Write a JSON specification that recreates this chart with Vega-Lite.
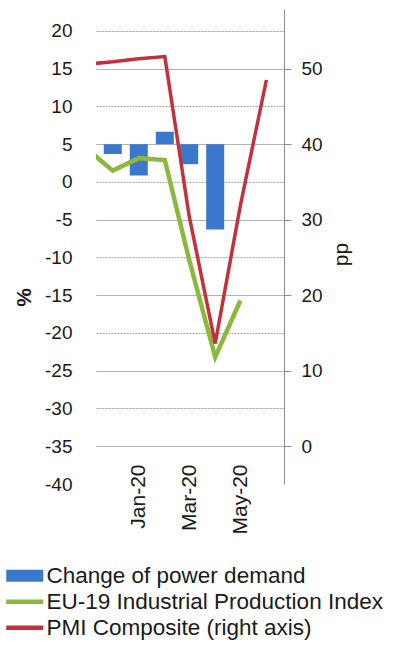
{
  "$schema": "https://vega.github.io/schema/vega-lite/v6.json",
  "autosize": {"type": "none"},
  "padding": {"left": 96, "top": 9, "right": 114, "bottom": 178},
  "width": 188,
  "height": 475,
  "background": "white",
  "config": {
    "view": {"stroke": null},
    "font": "Liberation Sans",
    "axis": {"labelFont": "Liberation Sans", "titleFont": "Liberation Sans", "labelColor": "#1a1a1a", "titleColor": "#1a1a1a"},
    "legend": {"labelFont": "Liberation Sans"}
  },
  "data": {
    "values": [
      {"month": "2019-11-01", "power": null, "ip": 4.3, "pmi": 50.6},
      {"month": "2019-12-01", "power": 3.7, "ip": 1.5, "pmi": 50.9},
      {"month": "2020-01-01", "power": 0.85, "ip": 3.15, "pmi": 51.3},
      {"month": "2020-02-01", "power": 6.65, "ip": 2.9, "pmi": 51.6},
      {"month": "2020-03-01", "power": 2.35, "ip": -10.3, "pmi": 30.5},
      {"month": "2020-04-01", "power": -6.3, "ip": -23.2, "pmi": 13.6},
      {"month": "2020-05-01", "power": null, "ip": -15.7, "pmi": 31.9},
      {"month": "2020-06-01", "power": null, "ip": null, "pmi": 48.5}
    ]
  },
  "encoding": {
    "x": {
      "field": "month",
      "type": "temporal",
      "scale": {
        "type": "utc",
        "domain": [
          {"year": 2019, "month": 11, "date": 17, "utc": true},
          {"year": 2020, "month": 6, "date": 16, "utc": true}
        ]
      },
      "axis": {
        "orient": "bottom",
        "offset": -38,
        "title": null,
        "values": [
          {"year": 2020, "month": 1, "date": 1, "utc": true},
          {"year": 2020, "month": 3, "date": 1, "utc": true},
          {"year": 2020, "month": 5, "date": 1, "utc": true}
        ],
        "format": "%b-%y",
        "labelAngle": 270,
        "labelAlign": "right",
        "labelBaseline": "middle",
        "labelPadding": 18,
        "labelFontSize": 21,
        "labelOverlap": false,
        "ticks": false,
        "domain": false,
        "grid": false
      }
    }
  },
  "layer": [
    {
      "encoding": {
        "y": {
          "type": "quantitative",
          "scale": {"domain": [-40, 22.9], "nice": false, "zero": false},
          "axis": {
            "orient": "left",
            "title": "%",
            "titleFontSize": 21,
            "titleFontWeight": "bold",
            "titleAngle": 270,
            "titleX": -72,
            "titleY": 288,
            "titleAlign": "center",
            "titleBaseline": "middle",
            "values": [-40, -35, -30, -25, -20, -15, -10, -5, 0, 5, 10, 15, 20],
            "labelExpr": "replace(datum.label, '\u2212', '-')",
            "labelFontSize": 19,
            "labelPadding": 24,
            "ticks": false,
            "domain": false,
            "grid": true,
            "gridColor": "#a8a8a8",
            "gridDash": [2, 1],
            "gridOpacity": {"condition": {"test": "datum.value < -36", "value": 0}, "value": 1}
          }
        }
      },
      "layer": [
        {
          "mark": {"type": "bar", "width": 18},
          "encoding": {
            "y": {"field": "power", "type": "quantitative"},
            "y2": {"datum": 5},
            "color": {"datum": "Change of power demand", "type": "nominal"}
          }
        },
        {
          "mark": {"type": "line", "strokeWidth": 4.5, "clip": true, "strokeJoin": "miter"},
          "encoding": {
            "y": {"field": "ip", "type": "quantitative"},
            "color": {"datum": "EU-19 Industrial Production Index", "type": "nominal"}
          }
        }
      ]
    },
    {
      "mark": {"type": "line", "strokeWidth": 3.5, "clip": true, "strokeJoin": "miter"},
      "encoding": {
        "y": {
          "field": "pmi",
          "type": "quantitative",
          "scale": {"domain": [-5, 57.9], "nice": false, "zero": false},
          "axis": {
            "orient": "right",
            "title": "pp",
            "titleFontSize": 21,
            "titleFontWeight": "normal",
            "titleAngle": 270,
            "titleX": 57,
            "titleY": 245,
            "titleAlign": "center",
            "titleBaseline": "middle",
            "values": [0, 10, 20, 30, 40, 50],
            "labelFontSize": 19,
            "labelPadding": 10,
            "ticks": true,
            "tickSize": 7,
            "tickColor": "#8c8c8c",
            "domain": true,
            "domainColor": "#8c8c8c",
            "grid": true,
            "gridColor": "#b4b4b4"
          }
        },
        "color": {
          "datum": "PMI Composite (right axis)",
          "type": "nominal",
          "scale": {
            "domain": ["Change of power demand", "EU-19 Industrial Production Index", "PMI Composite (right axis)"],
            "range": ["#3B78CC", "#8CB83E", "#C4303C"]
          },
          "legend": {
            "orient": "none",
            "direction": "vertical",
            "legendX": -82.5,
            "legendY": 555.5,
            "title": null,
            "padding": 0,
            "symbolSize": 400,
            "symbolStrokeWidth": 0,
            "symbolOpacity": 1,
            "labelFontSize": 22.5,
            "labelColor": "#1a1a1a",
            "labelOffset": 10.5,
            "labelLimit": 400,
            "rowPadding": 3,
            "encode": {
              "symbols": {
                "update": {
                  "shape": {"signal": "datum.label === 'Change of power demand' ? 'M-1.85,-0.6H1.85V0.6H-1.85Z' : 'M-1.85,-0.22H1.85V0.22H-1.85Z'"},
                  "fill": {"scale": "color", "field": "value"},
                  "strokeWidth": {"value": 0},
                  "opacity": {"value": 1}
                }
              }
            }
          }
        }
      }
    }
  ],
  "resolve": {"scale": {"y": "independent"}}
}
